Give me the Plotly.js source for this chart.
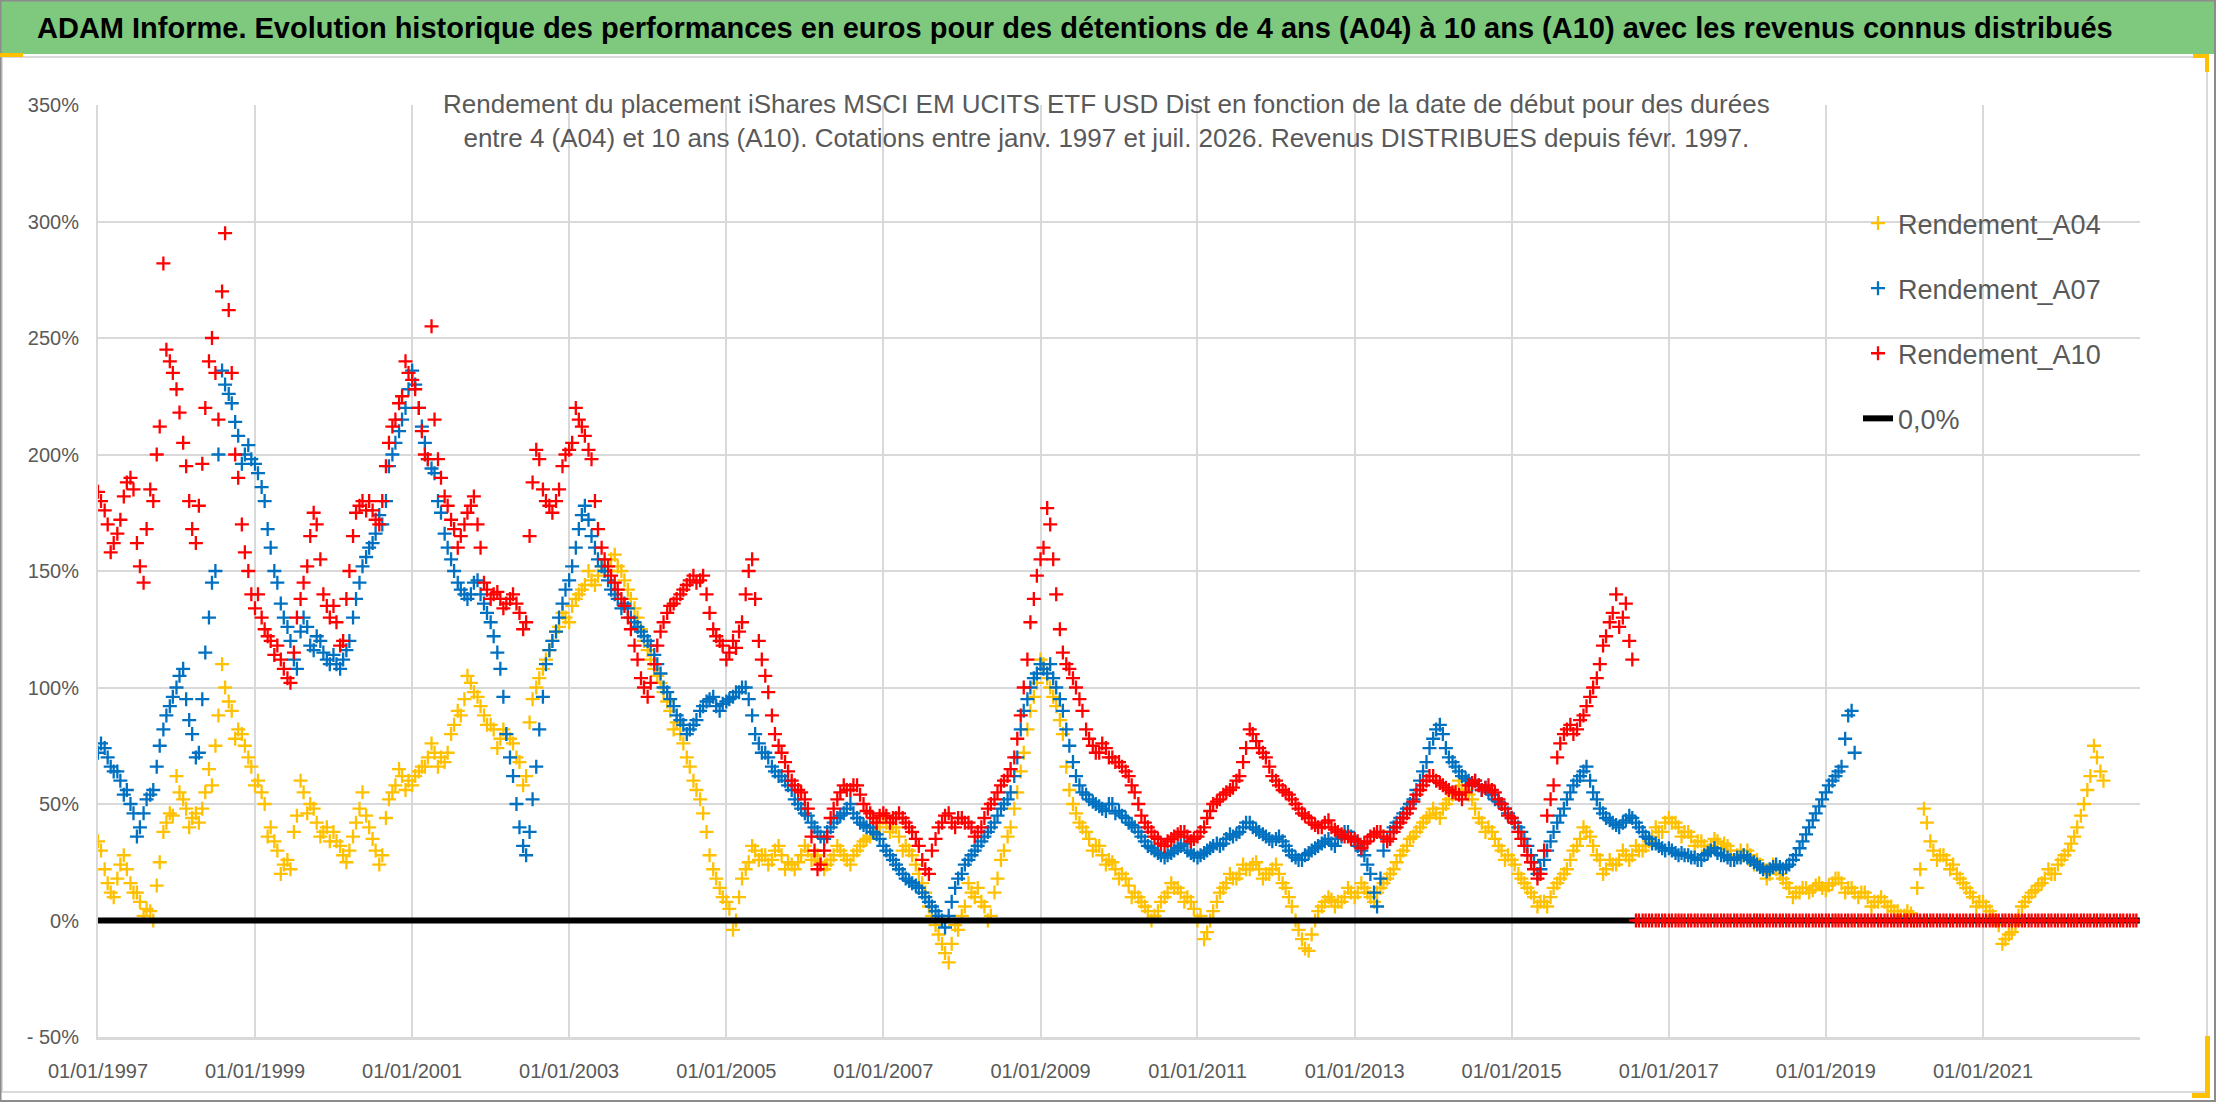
<!DOCTYPE html>
<html>
<head>
<meta charset="utf-8">
<script src="https://cdn.plot.ly/plotly-3.0.1.min.js"></script>
<style>
  html, body { margin: 0; padding: 0; background: #fff; }
  #myDiv { width: 2216px; height: 1102px; }
</style>
</head>
<body>
<div id="myDiv"></div>
<script>
// two readings per month (1st and 15th), first month = January 1997
var startYear = 1997;

// readings on the 15th
var a04 = [
  30, 16, 10, 24, 22, 12, 8, 5, 0, 25, 42, 45,         // 1997
  55, 48, 44, 42, 55, 58, 88, 100, 90, 82, 75, 66,     // 1998
  60, 50, 40, 30, 24, 22, 45, 55, 50, 42, 38, 34,      // 1999
  34, 28, 30, 42, 55, 40, 30, 28, 52, 58, 62, 60,      // 2000
  62, 66, 70, 72, 70, 72, 84, 88, 105, 98, 92, 84,     // 2001
  82, 78, 80, 76, 68, 62, 95, 104, 112, 120, 126, 130, // 2002
  135, 140, 144, 146, 148, 150, 155, 152, 146, 138, 130, 120, // 2003
  112, 105, 98, 90, 85, 76, 66, 56, 46, 28, 18, 10,    // 2004
  5, 0, 18, 25, 30, 28, 24, 30, 28, 25, 22, 28,        // 2005
  30, 28, 25, 24, 28, 30, 26, 28, 32, 35, 38, 40,      // 2006
  42, 40, 36, 32, 28, 20, 12, 2, -6, -14, -10, -4,     // 2007
  6, 12, 14, 6, 2, 18, 30, 40, 55, 72, 90, 102,        // 2008
  110, 100, 92, 80, 56, 46, 40, 35, 32, 28, 26, 22,    // 2009
  20, 15, 12, 8, 4, 2, 8, 12, 14, 12, 10, 5,           // 2010
  2, -5, 4, 12, 16, 18, 20, 22, 24, 22, 20, 22,        // 2011
  20, 14, 6, -4, -12, -6, 4, 8, 9, 8, 10, 12,          // 2012
  12, 14, 10, 12, 16, 20, 25, 30, 35, 38, 42, 45,      // 2013
  46, 48, 52, 55, 58, 54, 48, 42, 40, 35, 30, 28,      // 2014
  24, 18, 14, 10, 8, 6, 14, 18, 22, 30, 35, 38,        // 2015
  32, 26, 22, 24, 26, 28, 28, 30, 32, 36, 38, 42,      // 2016
  42, 40, 38, 36, 34, 32, 32, 34, 33, 30, 28, 28,      // 2017
  28, 26, 22, 20, 22, 18, 14, 12, 14, 12, 15, 14,      // 2018
  15, 18, 16, 14, 12, 12, 10, 8, 10, 6, 4, 2,          // 2019
  4, 0, 22, 42, 30, 28, 26, 24, 18, 14, 10, 8,         // 2020
  6, 2, -2, -8, -5, 2, 8, 12, 15, 18, 20, 24,          // 2021
  28, 33, 40, 50, 62, 70, 60                           // 2022
];
// readings on the 1st
var a04Early = [
  34, 22, 12, 18, 28, 16, 12, 2, 4, 15, 38, 46,        // 1997
  62, 52, 40, 46, 48, 65, 75, 110, 94, 78, 80, 70,     // 1998
  58, 55, 36, 34, 20, 26, 38, 60, 46, 48, 36, 40,      // 1999
  38, 32, 25, 36, 48, 45, 35, 24, 44, 55, 65, 56,      // 2000
  58, 64, 66, 76, 66, 68, 80, 90, 95, 102, 96, 88,     // 2001
  84, 74, 82, 78, 70, 58, 85, 100, 108, 116, 124, 132, // 2002
  128, 138, 142, 150, 144, 152, 150, 157, 150, 142, 134, 125, // 2003
  116, 108, 102, 94, 82, 80, 70, 60, 52, 38, 22, 14,   // 2004
  8, -4, 10, 22, 32, 26, 28, 26, 32, 22, 24, 25,       // 2005
  32, 26, 28, 22, 26, 32, 28, 24, 30, 34, 36, 42,      // 2006
  44, 38, 40, 30, 30, 24, 16, 6, -2, -10, -18, -2,     // 2007
  2, 16, 10, 8, 0, 12, 26, 36, 48, 64, 82, 96,         // 2008
  112, 104, 96, 86, 66, 50, 42, 38, 30, 32, 24, 25,    // 2009
  18, 18, 10, 10, 6, 0, 4, 10, 16, 14, 8, 8,           // 2010
  0, -8, 0, 8, 14, 20, 18, 24, 22, 25, 18, 20,         // 2011
  24, 16, 10, 0, -8, -13, 0, 6, 10, 6, 8, 14,          // 2012
  10, 16, 12, 8, 14, 18, 22, 28, 32, 36, 40, 44,       // 2013
  48, 44, 50, 54, 60, 56, 52, 44, 38, 38, 32, 26,      // 2014
  26, 20, 16, 12, 6, 8, 10, 16, 20, 26, 32, 40,        // 2015
  36, 28, 20, 26, 24, 30, 26, 32, 30, 34, 40, 38,      // 2016
  44, 42, 36, 38, 32, 34, 30, 35, 31, 32, 26, 30,      // 2017
  30, 24, 24, 18, 24, 20, 16, 10, 12, 14, 13, 16,      // 2018
  13, 16, 18, 12, 14, 10, 12, 6, 8, 8, 6, 4,           // 2019
  2, 3, 14, 48, 34, 26, 28, 22, 20, 16, 12, 6,         // 2020
  8, 4, 0, -10, -6, -2, 6, 10, 13, 16, 22, 20,         // 2021
  26, 30, 36, 45, 56, 75, 64                           // 2022
];

var a07 = [
  76, 70, 64, 60, 56, 46, 40, 52, 56, 75, 88, 96,      // 1997
  105, 95, 80, 72, 115, 145, 200, 230, 222, 208, 200, 198, // 1998
  192, 180, 160, 145, 130, 120, 108, 130, 118, 122, 115, 110, // 1999
  110, 112, 120, 138, 152, 160, 166, 170, 195, 205, 215, 228, // 2000
  230, 212, 198, 192, 175, 160, 150, 142, 138, 145, 140, 132, // 2001
  122, 108, 80, 62, 40, 28, 52, 82, 110, 120, 130, 142, // 2002
  152, 168, 178, 165, 155, 150, 142, 138, 136, 130, 126, 122, // 2003
  118, 110, 100, 95, 88, 84, 82, 86, 92, 95, 92, 93,   // 2004
  95, 98, 100, 95, 80, 72, 70, 64, 62, 58, 52, 48,     // 2005
  45, 40, 36, 38, 42, 45, 48, 46, 42, 40, 38, 35,      // 2006
  30, 26, 22, 18, 16, 14, 10, 6, 2, -3, 8, 18,         // 2007
  24, 28, 32, 36, 40, 45, 50, 55, 70, 90, 100, 106,    // 2008
  108, 110, 100, 90, 75, 62, 55, 52, 50, 48, 50, 46,   // 2009
  45, 42, 40, 36, 32, 30, 28, 28, 30, 32, 30, 28,      // 2010
  28, 30, 32, 32, 35, 36, 38, 42, 40, 38, 36, 34,      // 2011
  36, 32, 28, 26, 28, 30, 32, 34, 33, 35, 38, 36,      // 2012
  32, 28, 20, 6, 30, 38, 42, 46, 50, 56, 64, 74,       // 2013
  82, 80, 70, 66, 62, 60, 60, 56, 55, 52, 50, 46,      // 2014
  42, 38, 32, 25, 22, 30, 38, 45, 52, 58, 62, 66,      // 2015
  55, 48, 44, 42, 40, 43, 44, 40, 36, 33, 32, 30,      // 2016
  30, 28, 28, 27, 26, 28, 30, 29, 28, 26, 27, 28,      // 2017
  26, 24, 22, 22, 24, 22, 24, 28, 34, 40, 46, 52,      // 2018
  58, 62, 66, 88, 72                                   // 2019
];
var a07Early = [
  72, 74, 66, 64, 54, 50, 36, 46, 54, 66, 82, 92,      // 1997
  100, 108, 86, 70, 95, 130, 150, 236, 226, 214, 196, 204, // 1998
  196, 186, 168, 150, 136, 126, 112, 124, 126, 116, 120, 112, // 1999
  114, 108, 116, 130, 145, 156, 162, 174, 180, 200, 210, 220, // 2000
  236, 220, 205, 194, 180, 166, 155, 145, 140, 140, 146, 136, // 2001
  128, 115, 96, 70, 50, 32, 38, 66, 96, 116, 124, 136, // 2002
  146, 160, 174, 172, 160, 152, 146, 140, 134, 134, 128, 124, // 2003
  120, 114, 106, 98, 92, 86, 80, 84, 90, 94, 96, 90,   // 2004
  94, 96, 98, 100, 88, 76, 72, 66, 62, 60, 56, 50,     // 2005
  46, 42, 38, 35, 40, 44, 46, 50, 44, 41, 40, 37,      // 2006
  32, 28, 24, 20, 17, 15, 12, 8, 4, 0, 2, 14,          // 2007
  20, 26, 30, 34, 38, 42, 48, 52, 62, 82, 95, 104,     // 2008
  110, 106, 104, 95, 82, 68, 58, 54, 51, 49, 47, 50,   // 2009
  47, 44, 41, 38, 34, 31, 29, 27, 29, 31, 33, 29,      // 2010
  27, 29, 31, 33, 33, 37, 37, 40, 42, 39, 37, 35,      // 2011
  35, 34, 30, 27, 26, 29, 31, 33, 35, 32, 36, 38,      // 2012
  34, 30, 24, 12, 18, 35, 40, 44, 48, 52, 60, 68,      // 2013
  78, 84, 74, 68, 64, 61, 58, 58, 57, 54, 51, 48,      // 2014
  44, 40, 35, 28, 20, 26, 34, 42, 48, 55, 60, 64,      // 2015
  60, 52, 46, 43, 41, 42, 45, 42, 38, 35, 33, 31,      // 2016
  31, 29, 29, 28, 27, 26, 29, 31, 28, 27, 26, 27,      // 2017
  27, 25, 23, 21, 23, 23, 23, 26, 31, 37, 43, 49,      // 2018
  55, 60, 64, 78, 90                                   // 2019
];

var a10 = [
  180, 170, 162, 172, 188, 185, 152, 168, 180, 212, 245, 235, // 1997
  218, 195, 168, 178, 220, 250, 215, 295, 235, 190, 158, 140, // 1998
  140, 125, 120, 118, 108, 102, 130, 145, 165, 170, 140, 130, // 1999
  128, 120, 150, 175, 180, 180, 172, 180, 205, 215, 225, 235, // 2000
  228, 210, 198, 215, 190, 178, 168, 165, 175, 182, 160, 142, // 2001
  140, 138, 136, 140, 132, 128, 188, 198, 180, 175, 185, 200, // 2002
  205, 215, 208, 198, 168, 155, 148, 142, 135, 125, 112, 100, // 2003
  102, 118, 128, 135, 138, 142, 146, 145, 148, 132, 122, 118, // 2004
  115, 117, 128, 150, 138, 112, 98, 80, 72, 64, 58, 55,       // 2005
  48, 30, 24, 36, 48, 55, 56, 58, 54, 47, 44, 45,             // 2006
  45, 44, 46, 42, 38, 32, 22, 30, 40, 45, 42, 44,             // 2007
  42, 40, 38, 44, 50, 55, 60, 65, 78, 100, 128, 148,          // 2008
  160, 170, 140, 115, 108, 100, 90, 78, 72, 76, 70, 68,       // 2009
  66, 62, 55, 45, 40, 36, 33, 34, 36, 38, 36, 35,             // 2010
  38, 44, 50, 52, 55, 57, 62, 74, 80, 74, 70, 62,             // 2011
  58, 55, 52, 48, 45, 42, 40, 42, 40, 38, 36, 35,             // 2012
  34, 33, 36, 38, 36, 35, 40, 44, 48, 54, 58, 62,             // 2013
  60, 58, 56, 55, 52, 58, 60, 56, 58, 55, 50, 45,             // 2014
  42, 35, 28, 22, 20, 45, 58, 76, 82, 80, 86, 92,             // 2015
  100, 110, 122, 132, 126, 136, 112, 0, 0, 0, 0, 0,           // 2016
  0, 0, 0, 0, 0, 0, 0, 0, 0, 0, 0, 0,                         // 2017
  0, 0, 0, 0, 0, 0, 0, 0, 0, 0, 0, 0,                         // 2018
  0, 0, 0, 0, 0, 0, 0, 0, 0, 0, 0, 0,                         // 2019
  0, 0, 0, 0, 0, 0, 0, 0, 0, 0, 0, 0,                         // 2020
  0, 0, 0, 0, 0, 0, 0, 0, 0, 0, 0, 0,                         // 2021
  0, 0, 0, 0, 0, 0, 0, 0, 0, 0, 0, 0                          // 2022
];
var a10Early = [
  184, 176, 158, 166, 182, 190, 162, 145, 185, 200, 282, 240, // 1997
  228, 205, 180, 162, 196, 240, 235, 270, 262, 200, 170, 150, // 1998
  134, 130, 122, 114, 112, 104, 115, 138, 152, 175, 155, 135, // 1999
  135, 118, 138, 165, 178, 176, 176, 170, 195, 212, 222, 240, // 2000
  232, 220, 200, 255, 198, 182, 172, 160, 170, 178, 170, 145, // 2001
  138, 141, 134, 138, 136, 125, 165, 202, 185, 178, 180, 195, // 2002
  202, 220, 212, 202, 180, 160, 152, 145, 138, 130, 118, 104, // 2003
  96, 110, 124, 132, 136, 140, 144, 148, 146, 140, 125, 120,  // 2004
  112, 120, 124, 140, 155, 120, 105, 88, 75, 68, 60, 56,      // 2005
  52, 36, 22, 30, 44, 52, 58, 56, 58, 50, 46, 42,             // 2006
  46, 42, 44, 44, 40, 35, 26, 20, 35, 42, 46, 40,             // 2007
  44, 42, 36, 40, 48, 52, 58, 62, 70, 88, 112, 138,           // 2008
  155, 177, 155, 125, 110, 104, 95, 82, 75, 72, 74, 70,       // 2009
  68, 64, 58, 50, 42, 38, 35, 32, 35, 37, 38, 34,             // 2010
  36, 40, 47, 51, 54, 56, 60, 68, 82, 77, 72, 66,             // 2011
  60, 56, 54, 50, 46, 44, 41, 40, 43, 39, 37, 36,             // 2012
  35, 31, 34, 37, 38, 34, 38, 42, 46, 51, 56, 60,             // 2013
  62, 59, 57, 55, 54, 55, 59, 58, 57, 56, 52, 48,             // 2014
  44, 38, 32, 25, 18, 30, 52, 70, 80, 84, 82, 88,             // 2015
  96, 104, 118, 128, 140, 130, 120, 0, 0, 0, 0, 0,            // 2016
  0, 0, 0, 0, 0, 0, 0, 0, 0, 0, 0, 0,                         // 2017
  0, 0, 0, 0, 0, 0, 0, 0, 0, 0, 0, 0,                         // 2018
  0, 0, 0, 0, 0, 0, 0, 0, 0, 0, 0, 0,                         // 2019
  0, 0, 0, 0, 0, 0, 0, 0, 0, 0, 0, 0,                         // 2020
  0, 0, 0, 0, 0, 0, 0, 0, 0, 0, 0, 0,                         // 2021
  0, 0, 0, 0, 0, 0, 0, 0, 0, 0, 0, 0                          // 2022
];

var zeroDates = ['1997-01-01', '2022-12-31'];
var zeroValues = [0, 0];

var xTickDates = ['1997-01-01', '1999-01-01', '2001-01-01', '2003-01-01', '2005-01-01', '2007-01-01',
  '2009-01-01', '2011-01-01', '2013-01-01', '2015-01-01', '2017-01-01', '2019-01-01', '2021-01-01'];
var xTickLabels = ['01/01/1997', '01/01/1999', '01/01/2001', '01/01/2003', '01/01/2005', '01/01/2007',
  '01/01/2009', '01/01/2011', '01/01/2013', '01/01/2015', '01/01/2017', '01/01/2019', '01/01/2021'];
var yTickValues = [-50, 0, 50, 100, 150, 200, 250, 300, 350];
var yTickLabels = ['- 50%', '0%', '50%', '100%', '150%', '200%', '250%', '300%', '350%'];

function monthDates(n, day) {
  var out = [];
  for (var i = 0; i < n; i++) {
    var y = startYear + Math.floor(i / 12);
    var m = (i % 12) + 1;
    out.push(y + '-' + (m < 10 ? '0' + m : m) + '-' + day);
  }
  return out;
}

// plot area in pixels, used to place the extra decorations
var W = 2216, H = 1102;
var L = 98, R = 2140, T = 105, B = 1037;
function px(x) { return (x - L) / (R - L); }
function py(y) { return (B - y) / (B - T); }

var font = 'Liberation Sans, Arial, sans-serif';
var grey = '#595959';

function crosses(name, early, mid, color, rank) {
  return {
    x: monthDates(early.length, '01').concat(monthDates(mid.length, '15')),
    y: early.concat(mid),
    name: name,
    type: 'scatter',
    mode: 'markers',
    legendgroup: name,
    legendrank: rank,
    marker: {symbol: 'cross-thin', size: 10, color: color, line: {color: color, width: 2.3}},
    hoverinfo: 'x+y'
  };
}

var trace1 = crosses('Rendement_A04', a04Early, a04, '#FFC000', 1);
var trace2 = crosses('Rendement_A07', a07Early, a07, '#0070C0', 2);
var trace3 = {
  x: zeroDates,
  y: zeroValues,
  name: '0,0%',
  type: 'scatter',
  mode: 'lines',
  legendgroup: 'zero',
  legendrank: 4,
  line: {color: '#000000', width: 6}
};
var trace4 = crosses('Rendement_A10', a10Early, a10, '#FF0000', 3);

var data = [trace1, trace2, trace3, trace4];

var layout = {
  autosize: false,
  width: W,
  height: H,
  margin: {l: L, r: W - R, t: T, b: H - B, pad: 0},
  paper_bgcolor: '#ffffff',
  plot_bgcolor: '#ffffff',
  font: {family: font, color: grey},
  showlegend: true,
  legend: {
    x: px(1858), y: py(199), xanchor: 'left', yanchor: 'top',
    bgcolor: 'rgba(0,0,0,0)',
    font: {family: font, size: 27, color: grey},
    traceorder: 'grouped',
    tracegroupgap: 27
  },
  xaxis: {
    type: 'date',
    range: ['1997-01-01', '2023-01-01'],
    tickmode: 'array',
    tickvals: xTickDates,
    ticktext: xTickLabels,
    tickfont: {family: font, size: 20, color: grey},
    ticks: '',
    ticklabelstandoff: 14,
    showgrid: true,
    gridcolor: '#D9D9D9',
    gridwidth: 2,
    showline: true,
    linecolor: '#D9D9D9',
    linewidth: 3,
    zeroline: false,
    fixedrange: true
  },
  yaxis: {
    range: [-50, 350],
    tickmode: 'array',
    tickvals: yTickValues,
    ticktext: yTickLabels,
    tickfont: {family: font, size: 20, color: grey},
    ticks: '',
    ticklabelstandoff: 13,
    showgrid: true,
    gridcolor: '#D9D9D9',
    gridwidth: 2,
    showline: true,
    linecolor: '#D9D9D9',
    linewidth: 2,
    zeroline: false,
    fixedrange: true
  },
  shapes: [
    // title band
    {type: 'rect', xref: 'paper', yref: 'paper', x0: px(1), x1: px(2214), y0: py(54), y1: py(1),
     fillcolor: '#7EC97E', line: {width: 0}, layer: 'below'},
    // chart area frame
    {type: 'rect', xref: 'paper', yref: 'paper', x0: px(2), x1: px(2207), y0: py(1092), y1: py(57),
     line: {color: '#D9D9D9', width: 2}, layer: 'below'},
    // outer frame
    {type: 'rect', xref: 'paper', yref: 'paper', x0: px(0.5), x1: px(2215), y0: py(1101), y1: py(0.5),
     line: {color: '#8C8C8C', width: 2}},
    // boxes behind the inner title and the legend
    {type: 'rect', xref: 'paper', yref: 'paper', x0: px(432), x1: px(1777), y0: py(168), y1: py(80),
     fillcolor: '#ffffff', line: {width: 0}, layer: 'between'},
    {type: 'rect', xref: 'paper', yref: 'paper', x0: px(1807), x1: px(2140), y0: py(453), y1: py(192),
     fillcolor: '#ffffff', line: {width: 0}, layer: 'between'},
    // selection handles
    {type: 'rect', xref: 'paper', yref: 'paper', x0: px(0), x1: px(23), y0: py(57), y1: py(53),
     fillcolor: '#FFC000', line: {width: 0}},
    {type: 'rect', xref: 'paper', yref: 'paper', x0: px(2193), x1: px(2209), y0: py(58), y1: py(54),
     fillcolor: '#FFC000', line: {width: 0}},
    {type: 'rect', xref: 'paper', yref: 'paper', x0: px(2205), x1: px(2209), y0: py(72), y1: py(54),
     fillcolor: '#FFC000', line: {width: 0}},
    {type: 'rect', xref: 'paper', yref: 'paper', x0: px(2205), x1: px(2210), y0: py(1098), y1: py(1036),
     fillcolor: '#FFC000', line: {width: 0}},
    {type: 'rect', xref: 'paper', yref: 'paper', x0: px(2192), x1: px(2210), y0: py(1098), y1: py(1093),
     fillcolor: '#FFC000', line: {width: 0}}
  ],
  annotations: [
    {xref: 'paper', yref: 'paper', x: px(35), y: py(28), xanchor: 'left', yanchor: 'middle',
     showarrow: false,
     text: 'ADAM Informe. Evolution historique des performances en euros pour des détentions de 4 ans (A04) à 10 ans (A10) avec les revenus connus distribués',
     font: {family: font, size: 29, color: '#000000', weight: 'bold'}},
    {xref: 'paper', yref: 'paper', x: px(1106), y: py(121), xanchor: 'center', yanchor: 'middle',
     showarrow: false, align: 'center',
     text: 'Rendement du placement iShares MSCI EM UCITS ETF USD Dist en fonction de la date de début pour des durées<br>entre 4 (A04) et 10 ans (A10). Cotations entre janv. 1997 et juil. 2026. Revenus DISTRIBUES depuis févr. 1997.',
     font: {family: font, size: 26, color: grey}}
  ]
};

Plotly.newPlot('myDiv', data, layout, {displayModeBar: false, staticPlot: true});
</script>
</body>
</html>
